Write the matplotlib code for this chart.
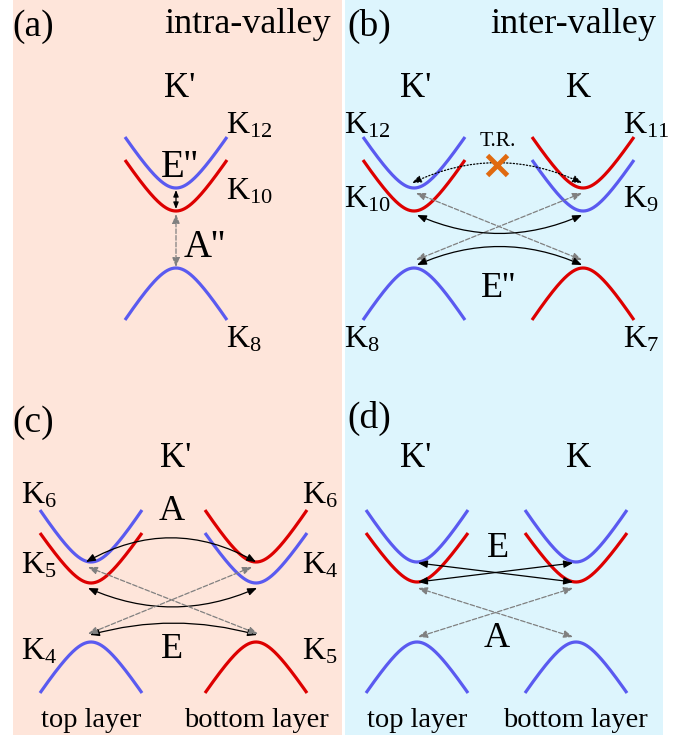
import numpy as np
import matplotlib
matplotlib.use("Agg")
import matplotlib.pyplot as plt
from matplotlib.patches import Rectangle, FancyArrowPatch

plt.rcParams['font.family'] = ['Liberation Serif', 'DejaVu Serif']
plt.rcParams['mathtext.fontset'] = 'custom'
plt.rcParams['mathtext.rm'] = 'Liberation Serif'
plt.rcParams['mathtext.it'] = 'Liberation Serif:italic'

BLUE = '#5a5af0'
RED = '#dd0000'

# ---- band data: centre x, extremum y, end y, colour ----
band_xc = [176, 176, 176,
           414, 414, 583, 583, 414, 583,
           91, 91, 256, 256, 91, 256,
           417, 417, 576, 576, 417, 576]
band_y0 = [188, 211, 268,
           188, 211, 188, 211, 268, 268,
           562, 583, 562, 583, 642, 642,
           562, 582, 562, 582, 642, 642]
band_y1 = [137, 160, 320,
           137, 160, 137, 160, 320, 320,
           510, 533, 510, 533, 693, 693,
           510, 533, 510, 533, 693, 693]
band_color = [BLUE, RED, BLUE,
              BLUE, RED, RED, BLUE, BLUE, RED,
              BLUE, RED, RED, BLUE, BLUE, RED,
              BLUE, RED, BLUE, RED, BLUE, BLUE]
HALF_W = 51

# ---- arrows: x1, y1, x2, y2, rad, colour, linestyle ----
arr_x1 = [176, 176, 412, 416, 582, 417, 417, 86, 88, 90, 88, 252, 418, 418, 418, 573]
arr_y1 = [190, 214, 183, 193, 193, 215, 265, 562, 588, 635, 567, 567, 563, 582, 588, 588]
arr_x2 = [176, 176, 582, 582, 416, 582, 582, 256, 257, 257, 258, 88, 573, 573, 573, 418]
arr_y2 = [209, 267, 183, 260, 260, 215, 265, 562, 588, 635, 634, 634, 582, 563, 637, 637]
arr_rad = [0, 0, -0.235, 0, 0, 0.22, -0.22, -0.28, 0.22, -0.14, 0, 0, 0, 0, 0, 0]
arr_col = ['k', 'gray', 'k', 'gray', 'gray', 'k', 'k', 'k', 'k', 'k', 'gray', 'gray', 'k', 'k', 'gray', 'gray']
arr_ls = ['-', '--', ':', '--', '--', '-', '-', '-', '-', '-', '--', '--', '-', '-', '--', '--']

fig = plt.figure(figsize=(6.89, 7.39), dpi=100)
ax = fig.add_axes([0, 0, 1, 1])
ax.set_xlim(0, 689)
ax.set_ylim(739, 0)
ax.axis('off')

ax.add_patch(Rectangle((13, 0), 329, 735, facecolor='#fee5da', edgecolor='none', zorder=0))
ax.add_patch(Rectangle((345, 0), 318, 735, facecolor='#ddf5fd', edgecolor='none', zorder=0))

t = np.linspace(-1, 1, 200)
a = 0.47
shape = (np.sqrt(1 + (t / a) ** 2) - 1) / (np.sqrt(1 + (1 / a) ** 2) - 1)
for xc, y0, y1, c in zip(band_xc, band_y0, band_y1, band_color):
    ax.plot(xc + HALF_W * t, y0 + (y1 - y0) * shape, color=c, lw=2.3,
            solid_capstyle='butt', zorder=2)

for i, (x1, y1, x2, y2, r, c, ls) in enumerate(zip(arr_x1, arr_y1, arr_x2, arr_y2,
                                                   arr_rad, arr_col, arr_ls)):
    ms = 7 if abs(y2 - y1) < 25 and x1 == x2 else 10
    p = FancyArrowPatch((x1, y1), (x2, y2),
                        arrowstyle='<|-|>,head_length=0.55,head_width=0.22',
                        connectionstyle=f'arc3,rad={r}', mutation_scale=ms,
                        color=c, lw=0.9, linestyle=ls, shrinkA=0, shrinkB=0, zorder=3)
    ax.add_patch(p)

ax.plot([497], [165], marker='x', ms=15, mew=3.5, color='#e06a10', zorder=4)

def txt(x, y, s, size, ha='left'):
    ax.text(x, y, s, fontsize=size, ha=ha, va='baseline', zorder=5)

# panel labels and titles
txt(12, 36, '(a)', 27)
txt(347, 36, '(b)', 27)
txt(12, 432, '(c)', 27)
txt(347, 428, '(d)', 27)
txt(331, 33, 'intra-valley', 26, ha='right')
txt(656, 33, 'inter-valley', 26, ha='right')

# valley labels
txt(180, 97, "K'", 25, ha='center')
txt(416, 97, "K'", 25, ha='center')
txt(579, 97, 'K', 25, ha='center')
txt(176, 467, "K'", 25, ha='center')
txt(416, 467, "K'", 25, ha='center')
txt(579, 467, 'K', 25, ha='center')

# band labels
sub = 23
txt(226, 133, r'$\mathrm{K}_{12}$', sub)
txt(226, 200, r'$\mathrm{K}_{10}$', sub)
txt(226, 347, r'$\mathrm{K}_{8}$', sub)
txt(344, 133, r'$\mathrm{K}_{12}$', sub)
txt(344, 207, r'$\mathrm{K}_{10}$', sub)
txt(344, 347, r'$\mathrm{K}_{8}$', sub)
txt(623, 133, r'$\mathrm{K}_{11}$', sub)
txt(623, 207, r'$\mathrm{K}_{9}$', sub)
txt(623, 347, r'$\mathrm{K}_{7}$', sub)
txt(21, 503, r'$\mathrm{K}_{6}$', sub)
txt(21, 573, r'$\mathrm{K}_{5}$', sub)
txt(21, 660, r'$\mathrm{K}_{4}$', sub)
txt(302, 503, r'$\mathrm{K}_{6}$', sub)
txt(302, 573, r'$\mathrm{K}_{4}$', sub)
txt(302, 660, r'$\mathrm{K}_{5}$', sub)

# transition labels
txt(161, 177, "E''", 28)
txt(184, 257, "A''", 28)
txt(498, 297, "E''", 26, ha='center')
txt(172, 520, 'A', 26, ha='center')
txt(172, 658, 'E', 26, ha='center')
txt(498, 557, 'E', 26, ha='center')
txt(497, 647, 'A', 26, ha='center')
txt(498, 146, 'T.R.', 15.5, ha='center')

# layer labels
txt(91, 727, 'top layer', 20.5, ha='center')
txt(256, 727, 'bottom layer', 20.5, ha='center')
txt(417, 727, 'top layer', 20.5, ha='center')
txt(575, 727, 'bottom layer', 20.5, ha='center')

fig.savefig('out.png', dpi=100)
